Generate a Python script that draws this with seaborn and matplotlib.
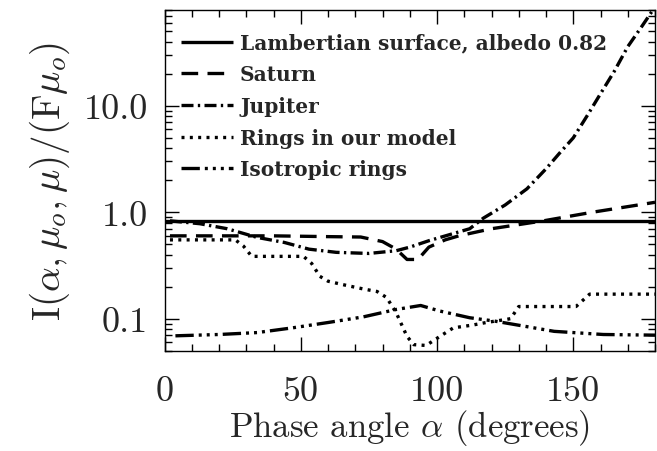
import numpy as np
import pandas as pd
import matplotlib
matplotlib.use("Agg")
import matplotlib.pyplot as plt
import seaborn as sns
from matplotlib.ticker import FixedLocator, NullFormatter, LogLocator

# ---- data ----
lam_x = [0, 180]
lam_y = [0.82, 0.82]

sat_x = [2, 20, 40, 60, 72, 80, 85, 89, 93, 97, 103, 108, 120, 139, 157, 180]
sat_y = [0.60, 0.60, 0.60, 0.59, 0.585, 0.53, 0.45, 0.36, 0.36, 0.47, 0.55, 0.60, 0.70, 0.83, 1.0, 1.24]

jup_x = [2, 13, 23, 34, 44, 53, 63, 75, 85, 90, 97, 105, 112, 117, 125, 133, 140, 145, 150, 155, 160, 165, 170, 175, 180]
jup_y = [0.83, 0.78, 0.70, 0.58, 0.52, 0.45, 0.42, 0.41, 0.435, 0.47, 0.54, 0.62, 0.70, 0.88, 1.17, 1.66, 2.56, 3.6, 5.0, 8.0, 13.0, 21.0, 36.0, 55.0, 85.0]

ring_x = [2, 26, 29, 32, 51, 54, 57, 60, 65, 73, 78, 81.5, 85, 89, 91.5, 96, 101, 106, 113, 118, 125, 127, 130, 151, 156, 180]
ring_y = [0.55, 0.55, 0.48, 0.385, 0.385, 0.33, 0.25, 0.225, 0.21, 0.19, 0.18, 0.158, 0.114, 0.068, 0.057, 0.056, 0.068, 0.082, 0.087, 0.092, 0.098, 0.10, 0.13, 0.13, 0.17, 0.17]

iso_x = [4, 20, 34, 47, 60, 73, 85, 94, 101, 112, 121, 132, 143, 161, 180]
iso_y = [0.069, 0.071, 0.074, 0.082, 0.092, 0.104, 0.122, 0.133, 0.118, 0.102, 0.095, 0.085, 0.076, 0.071, 0.070]

labels = ["Lambertian surface, albedo 0.82", "Saturn", "Jupiter",
          "Rings in our model", "Isotropic rings"]
xticks = [0, 50, 100, 150]
yticks = [0.1, 1.0, 10.0]
ytick_labels = ["0.1", "1.0", "10.0"]

# ---- styling ----
sns.set_theme(style="ticks")
plt.rcParams["font.family"] = ["cmr10", "DejaVu Serif"]
plt.rcParams["mathtext.fontset"] = "cm"
plt.rcParams["axes.unicode_minus"] = False

fig = plt.figure(figsize=(6.57, 4.52), dpi=100)
ax = fig.add_axes([0.2504, 0.2219, 0.997 - 0.2504, 0.9763 - 0.2219])

lw = 2.4
styles = [
    (0, ()),
    (0, (5.0, 2.8)),
    (0, (3.6, 1.3, 0.7, 1.3)),
    (0, (0.9, 1.6)),
    (0, (5.5, 1.5, 0.9, 1.5, 0.9, 1.5, 0.9, 1.5)),
]
series = [(lam_x, lam_y), (sat_x, sat_y), (jup_x, jup_y), (ring_x, ring_y), (iso_x, iso_y)]

handles = []
for (xs, ys), ls, lab in zip(series, styles, labels):
    df = pd.DataFrame({"x": xs, "y": ys})
    sns.lineplot(data=df, x="x", y="y", ax=ax, color="black", linewidth=lw,
                 linestyle=ls, estimator=None, sort=False)
    line = ax.lines[-1]
    line.set_dash_capstyle("butt")
    line.set_solid_capstyle("butt")
    line.set_label(lab)
    handles.append(line)

ax.set_yscale("log")
ax.set_xlim(0, 180)
ax.set_ylim(0.05, 80)

ax.set_xticks(xticks)
ax.set_xticklabels([str(t) for t in xticks])
ax.xaxis.set_minor_locator(FixedLocator(np.arange(0, 181, 10)))
ax.set_yticks(yticks)
ax.set_yticklabels(ytick_labels)
ax.yaxis.set_minor_locator(LogLocator(base=10, subs=np.arange(2, 10)))
ax.yaxis.set_minor_formatter(NullFormatter())

ax.tick_params(which="major", direction="in", length=10, width=1.0,
               top=True, right=True, labelsize=26, pad=12, color="black")
ax.tick_params(which="minor", direction="in", length=5, width=1.0,
               top=True, right=True, color="black")
ax.tick_params(axis="x", which="major", pad=18)
for sp in ax.spines.values():
    sp.set_linewidth(1.0)
    sp.set_color("black")
ax.grid(False)

ax.set_xlabel(r"Phase angle $\alpha$ (degrees)", fontsize=25, labelpad=0)
ax.set_ylabel(r"I$(\alpha,\mu_o,\mu)/($F$\mu_o)$", fontsize=28, labelpad=8)

leg = ax.legend(handles=handles, labels=labels, loc="upper left",
                bbox_to_anchor=(0.0, 0.98), frameon=False, handlelength=2.6,
                handletextpad=0.35, labelspacing=0.58, borderaxespad=0.4,
                prop={"family": "DejaVu Serif", "weight": "bold", "size": 14.5})

fig.savefig("out.png", dpi=100)
